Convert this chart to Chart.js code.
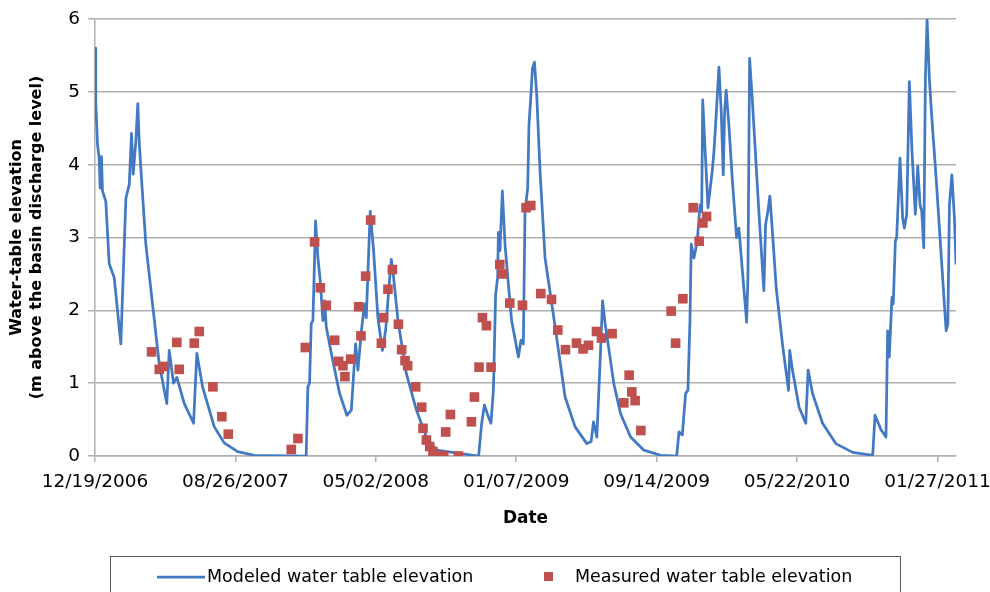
<!DOCTYPE html>
<html>
<head>
<meta charset="utf-8">
<script src="https://cdn.jsdelivr.net/npm/chart.js@4/dist/chart.umd.min.js"></script>
<style>
html,body{margin:0;padding:0;background:#fff;}
canvas{display:block;}
</style>
</head>
<body>
<canvas id="c" width="990" height="592"></canvas>
<script>
// ---- Data (x = days after 12/19/2006, y = m above basin discharge level) ----
const startDate = [2006, 12, 19];
const xTickDays = [0, 250, 500, 750, 1000, 1250, 1500];
const yTicks = [0, 1, 2, 3, 4, 5, 6];

const modeledDays = [0,1.3,4.4,7.4,9.2,11.5,13.3,19.2,25.3,34.2,46,55,61,65,68,72.7,76.2,78.7,81.6,90.5,102.4,114.3,127.8,132.2,139.8,145.8,159,175.5,181.3,191.5,212.4,230,254,283.5,
376,379,382,385,388,392.7,396.9,401,405.8,408.8,411.8,420.7,435.5,448.5,456.4,464,468.2,474.3,480,483,490,496,503.7,511.6,517.4,523.3,527.6,531.7,539.4,554.4,572.3,590,608,
683,688.5,693.3,700.4,705,709.3,713.3,716.9,718.2,721,725.3,730,737,741.8,753.8,758.5,762.7,765.6,770.4,772.7,775.8,778.8,782.4,786.5,792.4,801.3,813.3,825.2,837,854.8,875.7,883.4,887.6,893.5,899.4,903.7,908.4,911.9,923.8,935.8,953.6,977.3,1007,
1035.7,1039.8,1045.7,1051.6,1055.7,1059.3,1061.6,1066.4,1072.3,1077.2,1080.2,1082,1087.3,1091.4,1096.2,1099,1102,1105,1110.9,1115,1118.6,1121,1123.8,1128.6,1134.5,1142.3,1146.4,1160.2,1162.5,1165.5,1170.2,1182,1190.9,1194,1198,1201.6,1205.7,1213,1224,1234.8,1237,1241.8,1253.6,1265.5,1269.7,1277.5,1295.4,1319,1349,1384.7,
1388.8,1399.5,1408.3,1411.3,1414.2,1419,1421.3,1425,1427.4,1433.3,1438,1441,1445.3,1449.9,1454.7,1460.6,1464.9,1469,1472,1475.6,1478.5,1481.5,1485.6,1489.2,1497.6,1506.5,1515.4,1518.5,1521.3,1525.6,1530.2,1533];
const modeledLevel = [5.6,4.87,4.28,4.09,3.68,4.11,3.64,3.5,2.64,2.45,1.54,3.54,3.73,4.43,3.87,4.32,4.84,4.32,3.95,2.91,2.09,1.27,0.72,1.45,1.0,1.08,0.72,0.45,1.41,0.95,0.4,0.18,0.06,0.01,
0,0.95,1.0,1.82,1.86,3.23,2.72,2.41,1.86,2.13,1.77,1.41,0.86,0.56,0.63,1.54,1.18,1.72,2.09,1.9,3.36,2.82,1.9,1.45,1.72,2.31,2.7,2.45,1.86,1.13,0.63,0.26,0.08,
0,0.45,0.7,0.54,0.45,0.9,2.22,2.45,3.07,2.82,3.64,2.91,2.27,1.86,1.36,1.59,1.54,3.36,3.68,4.55,4.91,5.32,5.41,4.96,3.91,2.72,2.09,1.45,0.81,0.4,0.17,0.2,0.47,0.26,1.31,2.13,1.81,1.63,0.99,0.58,0.26,0.08,0.01,
0,0.33,0.29,0.86,0.9,1.86,2.91,2.72,2.95,3.45,3.36,4.89,4.05,3.41,3.73,3.91,4.18,4.55,5.34,4.73,3.86,4.73,5.02,4.55,3.82,3.0,3.13,1.84,2.45,5.46,4.91,3.36,2.27,3.18,3.36,3.57,3.13,2.3,1.54,0.9,1.45,1.18,0.67,0.45,1.18,0.86,0.45,0.17,0.05,0.01,
0.56,0.36,0.26,1.72,1.36,2.18,2.09,2.95,3.0,4.09,3.27,3.13,3.32,5.14,4.18,3.32,3.98,3.45,3.36,2.86,5.18,6.0,5.18,4.73,3.82,2.77,1.72,1.81,3.45,3.86,3.27,2.63];

const measuredDays = [100.7,114.4,122,145.7,150,176.7,185.6,209.9,225.9,237.3,349.5,361.3,374.5,391,401.2,411.9,426.7,433.8,441.5,445,455.2,469.4,473.5,481.9,490.8,509.9,514,521.6,529.5,540.2,546,552,556.7,571,581.7,584,590,596,601.8,610.7,620.9,624.4,632.8,647,670.2,675.6,683.8,689.8,697,705.2,720.7,726,738.5,761.1,767.5,775.9,793.7,812.8,824,837.7,857.3,869,878.7,892.9,901.8,920.7,941.6,951,955.8,961.7,971.9,1025.8,1033.7,1046.7,1065,1075.7,1082.3,1088.9];
const measuredLevel = [1.43,1.19,1.23,1.56,1.19,1.55,1.71,0.95,0.54,0.30,0.09,0.24,1.49,2.94,2.31,2.07,1.59,1.30,1.24,1.09,1.33,2.05,1.65,2.47,3.24,1.55,1.90,2.29,2.56,1.81,1.46,1.31,1.24,0.95,0.67,0.38,0.22,0.13,0.06,0.01,0.0,0.33,0.57,0.0,0.47,0.81,1.22,1.90,1.79,1.22,2.63,2.50,2.10,2.07,3.41,3.44,2.23,2.15,1.73,1.46,1.55,1.47,1.52,1.71,1.62,1.68,0.73,1.11,0.88,0.76,0.35,1.99,1.55,2.16,3.41,2.95,3.20,3.29];

const xMaxDays = 1533;

// ---- Styling ----
const FONT = '"DejaVu Sans", sans-serif';
const BLUE = '#4279c2';
const RED = '#c0504d';
const GRID = '#b0b0b0';

function fmtDate(days) {
  const base = Date.UTC(startDate[0], startDate[1] - 1, startDate[2]);
  const d = new Date(base + Math.round(days) * 86400000);
  const mm = String(d.getUTCMonth() + 1).padStart(2, '0');
  const dd = String(d.getUTCDate()).padStart(2, '0');
  return mm + '/' + dd + '/' + d.getUTCFullYear();
}

const legendBox = {
  id: 'legendBox',
  afterDraw(chart) {
    const ctx = chart.ctx;
    const ds = chart.data.datasets;
    ctx.save();
    ctx.strokeStyle = '#595959';
    ctx.lineWidth = 1;
    ctx.strokeRect(110.5, 556.5, 790, 60);
    const cy = 577;
    ctx.strokeStyle = ds[0].borderColor;
    ctx.lineWidth = 2.75;
    ctx.beginPath();
    ctx.moveTo(157, cy);
    ctx.lineTo(205, cy);
    ctx.stroke();
    ctx.fillStyle = '#000';
    ctx.font = '17.5px ' + FONT;
    ctx.textBaseline = 'middle';
    ctx.textAlign = 'left';
    ctx.fillText(ds[0].label, 207, cy);
    ctx.fillStyle = ds[1].backgroundColor;
    ctx.fillRect(544, cy - 5, 9, 9);
    ctx.fillStyle = '#000';
    ctx.fillText(ds[1].label, 575, cy);
    ctx.restore();
  }
};

new Chart(document.getElementById('c'), {
  type: 'scatter',
  data: {
    datasets: [
      {
        label: 'Modeled water table elevation',
        data: modeledDays.map((d, i) => ({x: d, y: modeledLevel[i]})),
        showLine: true,
        borderColor: BLUE,
        backgroundColor: BLUE,
        borderWidth: 2.75,
        borderJoinStyle: 'round',
        pointRadius: 0,
        tension: 0,
        order: 2
      },
      {
        label: 'Measured water table elevation',
        data: measuredDays.map((d, i) => ({x: d, y: measuredLevel[i]})),
        showLine: false,
        pointStyle: 'rect',
        pointRadius: 6.8,
        backgroundColor: RED,
        borderColor: RED,
        borderWidth: 0,
        order: 1
      }
    ]
  },
  options: {
    responsive: false,
    animation: false,
    devicePixelRatio: 1,
    layout: {padding: {left: 0, right: 34, top: 17, bottom: 62}},
    plugins: {legend: {display: false}, tooltip: {enabled: false}},
    scales: {
      x: {
        type: 'linear',
        min: 0,
        max: xMaxDays,
        afterFit(s) { s.height = 74; s.paddingRight = 0; s.paddingLeft = 0; },
        afterBuildTicks(s) { s.ticks = xTickDays.map(v => ({value: v})); },
        ticks: {
          autoSkip: false,
          maxRotation: 0,
          minRotation: 0,
          padding: 9,
          color: '#000',
          font: {family: FONT, size: 18.5},
          callback: (v) => fmtDate(v)
        },
        grid: {drawOnChartArea: false, color: GRID, lineWidth: 1.5, tickLength: 6},
        border: {color: GRID, width: 1.5},
        title: {
          display: true,
          text: 'Date',
          color: '#000',
          font: {family: FONT, size: 17, weight: 'bold'},
          padding: {top: 0, bottom: 1}
        }
      },
      y: {
        min: 0,
        max: 6,
        afterFit(s) { s.width = 95; },
        afterBuildTicks(s) { s.ticks = yTicks.map(v => ({value: v})); },
        ticks: {
          color: '#000',
          padding: 8,
          font: {family: FONT, size: 18.5}
        },
        grid: {color: GRID, lineWidth: 1.5, tickLength: 7},
        border: {color: GRID, width: 1.5},
        title: {
          display: true,
          text: ['Water-table elevation', '(m above the basin discharge level)'],
          color: '#000',
          font: {family: FONT, size: 16, weight: 'bold', lineHeight: 1.25},
          padding: {top: 7, bottom: 0}
        }
      }
    }
  },
  plugins: [legendBox]
});
</script>
</body>
</html>
